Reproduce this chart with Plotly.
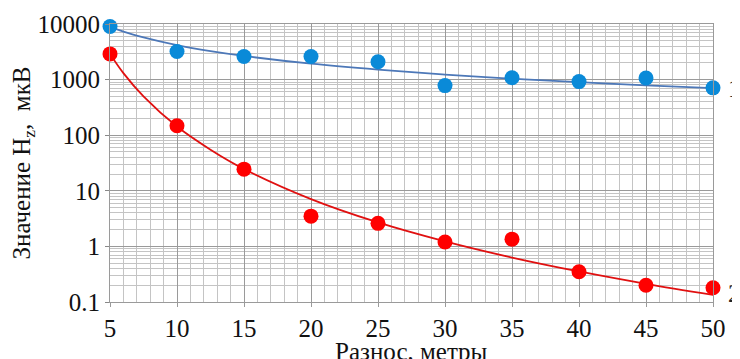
import math
import plotly.graph_objects as go

# measured points
distance = [5, 10, 15, 20, 25, 30, 35, 40, 45, 50]
series1 = [9000, 3200, 2600, 2600, 2100, 780, 1080, 920, 1070, 710]
series2 = [2900, 148, 24.5, 3.5, 2.6, 1.2, 1.35, 0.35, 0.2, 0.18]

# trend curves
curve_x = [5, 6, 7.5, 10, 12.5, 15, 20, 25, 30, 35, 40, 45, 50]
curve1 = [9000, 7300, 5750, 4170, 3250, 2660, 1930, 1510, 1230, 1040, 900, 790, 700]
curve2 = [2900, 1310, 500, 143, 55, 24.7, 7.1, 2.7, 1.23, 0.63, 0.354, 0.212, 0.134]

y_ticks = [0.1, 1, 10, 100, 1000, 10000]
y_tick_text = ["0.1", "1", "10", "100", "1000", "10000"]
x_ticks = [5, 10, 15, 20, 25, 30, 35, 40, 45, 50]

X_TITLE = "Разнос, метры"
Y_TITLE = "Значение H<sub>z</sub>,  мкВ"

FONT = "'Liberation Serif', 'Times New Roman', Tinos, 'DejaVu Serif', serif"
FS = 25
BLUE_M = "#0a8ad8"
BLUE_L = "#4d78b8"
RED_M = "#ff0000"
RED_L = "#e01010"

fig = go.Figure()
fig.add_trace(go.Scatter(x=curve_x, y=curve1, mode="lines",
                         line=dict(color=BLUE_L, width=1.8, shape="spline"),
                         showlegend=False, hoverinfo="skip"))
fig.add_trace(go.Scatter(x=curve_x, y=curve2, mode="lines",
                         line=dict(color=RED_L, width=1.8, shape="spline"),
                         showlegend=False, hoverinfo="skip"))
fig.add_trace(go.Scatter(x=distance, y=series1, mode="markers",
                         marker=dict(color=BLUE_M, size=15), showlegend=False,
                         cliponaxis=False))
fig.add_trace(go.Scatter(x=distance, y=series2, mode="markers",
                         marker=dict(color=RED_M, size=15), showlegend=False,
                         cliponaxis=False))

# curve labels (log axis: annotation y is given in log10 units)
fig.add_annotation(x=distance[-1], y=math.log10(series1[-1]), xref="x", yref="y",
                   text="1", showarrow=False, xanchor="left", xshift=13, yshift=-1,
                   font=dict(family=FONT, size=FS, color="#222"))
fig.add_annotation(x=distance[-1], y=math.log10(series2[-1]), xref="x", yref="y",
                   text="2", showarrow=False, xanchor="left", xshift=13, yshift=-6,
                   font=dict(family=FONT, size=FS, color="#222"))

# x-axis title placed just under the tick labels
fig.add_annotation(x=0.5, y=0, xref="paper", yref="paper", text=X_TITLE,
                   showarrow=False, xanchor="center", yanchor="middle", yshift=-49,
                   borderpad=0,
                   font=dict(family=FONT, size=FS, color="#111"))

fig.update_xaxes(range=[5, 50], tickvals=x_ticks, showgrid=True, automargin=False,
                 gridcolor="#9a9a9a", gridwidth=1.2,
                 minor=dict(dtick=1, showgrid=True, gridcolor="#c4c4c4", gridwidth=1),
                 ticks="outside", ticklen=4, tickcolor="#9a9a9a",
                 showline=True, linecolor="#9a9a9a", linewidth=1.2, mirror=True,
                 zeroline=False,
                 tickfont=dict(family=FONT, size=FS, color="#111"))
fig.update_yaxes(type="log", range=[-1, 4], tickvals=y_ticks, ticktext=y_tick_text,
                 showgrid=True, gridcolor="#9a9a9a", gridwidth=1.2, automargin=False,
                 minor=dict(dtick="D1", showgrid=True, gridcolor="#c4c4c4", gridwidth=1),
                 ticks="outside", ticklen=4, tickcolor="#888",
                 showline=True, linecolor="#9a9a9a", linewidth=1.2, mirror=True,
                 zeroline=False,
                 tickfont=dict(family=FONT, size=FS, color="#111"),
                 title=dict(text=Y_TITLE, standoff=4,
                            font=dict(family=FONT, size=FS, color="#111")))

# the page adds an 8px body margin, so the figure is offset to sit like the reference
fig.update_layout(width=732, height=359, plot_bgcolor="white", paper_bgcolor="white",
                  font=dict(family=FONT),
                  margin=dict(l=102, r=27, t=16, b=65))

fig.write_html("out.html")
